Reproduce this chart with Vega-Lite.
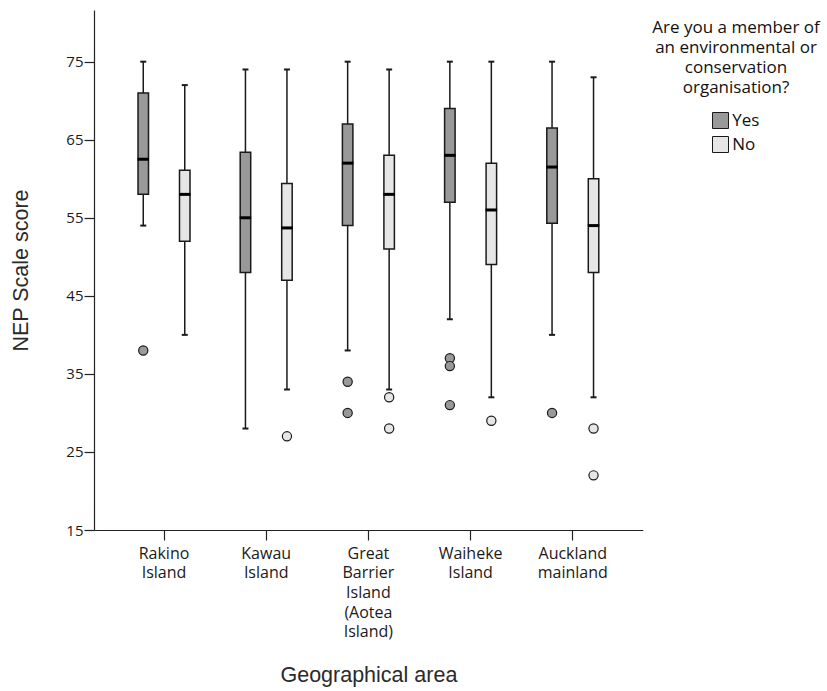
{
  "$schema": "https://vega.github.io/schema/vega-lite/v6.json",
  "width": 548.8,
  "height": 520,
  "autosize": {"type": "none"},
  "padding": {"left": 94, "top": 10, "right": 184.2, "bottom": 161},
  "background": "white",
  "config": {
    "view": {"stroke": null},
    "axis": {
      "domainColor": "#222", "tickColor": "#222", "labelColor": "#1a1a1a", "titleColor": "#2a2a2a",
      "grid": false, "labelFont": "Open Sans", "titleFont": "Liberation Sans", "titleFontWeight": "normal",
      "tickSize": 10, "domainWidth": 1.2, "tickWidth": 1.2
    },
    "axisX": {"labelAngle": 0, "labelFontSize": 16, "labelPadding": 5, "labelLineHeight": 19.7, "titleFontSize": 21.5, "titlePadding": 25},
    "axisY": {"labelFontSize": 15, "labelPadding": 1, "titleFontSize": 21.5, "titlePadding": 33}
  },
  "datasets": {
    "boxes": [
      {"area": "Rakino Island", "member": "Yes", "lower": 54, "q1": 58, "median": 62.5, "q3": 71, "upper": 75},
      {"area": "Rakino Island", "member": "No", "lower": 40, "q1": 52, "median": 58, "q3": 61.1, "upper": 72},
      {"area": "Kawau Island", "member": "Yes", "lower": 28, "q1": 48, "median": 55, "q3": 63.4, "upper": 74},
      {"area": "Kawau Island", "member": "No", "lower": 33, "q1": 47, "median": 53.7, "q3": 59.4, "upper": 74},
      {"area": "Great Barrier Island (Aotea Island)", "member": "Yes", "lower": 38, "q1": 54, "median": 62, "q3": 67, "upper": 75},
      {"area": "Great Barrier Island (Aotea Island)", "member": "No", "lower": 33, "q1": 51, "median": 58, "q3": 63, "upper": 74},
      {"area": "Waiheke Island", "member": "Yes", "lower": 42, "q1": 57, "median": 63, "q3": 69, "upper": 75},
      {"area": "Waiheke Island", "member": "No", "lower": 32, "q1": 49, "median": 56, "q3": 62, "upper": 75},
      {"area": "Auckland mainland", "member": "Yes", "lower": 40, "q1": 54.3, "median": 61.5, "q3": 66.5, "upper": 75},
      {"area": "Auckland mainland", "member": "No", "lower": 32, "q1": 48, "median": 54, "q3": 60, "upper": 73}
    ],
    "outliers": [
      {"area": "Rakino Island", "member": "Yes", "value": 38},
      {"area": "Kawau Island", "member": "No", "value": 27},
      {"area": "Great Barrier Island (Aotea Island)", "member": "Yes", "value": 34},
      {"area": "Great Barrier Island (Aotea Island)", "member": "Yes", "value": 30},
      {"area": "Great Barrier Island (Aotea Island)", "member": "No", "value": 32},
      {"area": "Great Barrier Island (Aotea Island)", "member": "No", "value": 28},
      {"area": "Waiheke Island", "member": "Yes", "value": 37},
      {"area": "Waiheke Island", "member": "Yes", "value": 36},
      {"area": "Waiheke Island", "member": "Yes", "value": 31},
      {"area": "Waiheke Island", "member": "No", "value": 29},
      {"area": "Auckland mainland", "member": "Yes", "value": 30},
      {"area": "Auckland mainland", "member": "No", "value": 28},
      {"area": "Auckland mainland", "member": "No", "value": 22}
    ]
  },
  "data": {"name": "boxes"},
  "encoding": {
    "x": {
      "field": "area", "type": "nominal",
      "sort": ["Rakino Island", "Kawau Island", "Great Barrier Island (Aotea Island)", "Waiheke Island", "Auckland mainland"],
      "scale": {"paddingInner": 0.188, "paddingOuter": 0.279},
      "axis": {"title": "Geographical area", "labelExpr": "split(datum.label, ' ')"}
    },
    "xOffset": {
      "field": "member", "type": "nominal", "sort": ["Yes", "No"],
      "scale": {"domain": ["Yes", "No"], "paddingInner": 0, "paddingOuter": 0}
    }
  },
  "layer": [
    {
      "mark": {"type": "rule", "color": "#1a1a1a", "strokeWidth": 1.5},
      "encoding": {
        "y": {"field": "lower", "type": "quantitative", "title": "NEP Scale score",
          "scale": {"domain": [15, 81.62], "nice": false, "zero": false},
          "axis": {"values": [15, 25, 35, 45, 55, 65, 75]}},
        "y2": {"field": "upper"}
      }
    },
    {
      "mark": {"type": "tick", "color": "#1a1a1a", "size": 6, "thickness": 2, "opacity": 1},
      "encoding": {"y": {"field": "lower", "type": "quantitative", "title": "NEP Scale score"}}
    },
    {
      "mark": {"type": "tick", "color": "#1a1a1a", "size": 6, "thickness": 2, "opacity": 1},
      "encoding": {"y": {"field": "upper", "type": "quantitative", "title": "NEP Scale score"}}
    },
    {
      "mark": {"type": "bar", "width": 10.5, "stroke": "#1a1a1a", "strokeWidth": 1.5},
      "encoding": {
        "y": {"field": "q1", "type": "quantitative", "title": "NEP Scale score"},
        "y2": {"field": "q3"},
        "fill": {
          "field": "member", "type": "nominal",
          "scale": {"domain": ["Yes", "No"], "range": ["#999999", "#e6e6e6"]},
          "legend": {
            "title": ["Are you a member of", "an environmental or", "conservation", "organisation?"],
            "orient": "none", "legendX": 558, "legendY": 10,
            "symbolType": "square", "symbolSize": 256, "symbolStrokeColor": "#1a1a1a", "symbolStrokeWidth": 1,
            "symbolOffset": 0, "labelOffset": 3.2,
            "labelFont": "Open Sans", "labelFontSize": 17, "labelColor": "#111",
            "titleFont": "Open Sans", "titleFontSize": 17, "titleFontWeight": "normal", "titleColor": "#111",
            "titleAlign": "center", "titleAnchor": "middle", "titleLineHeight": 20, "titlePadding": 15,
            "titleLimit": 400, "rowPadding": 3, "padding": 0
          }
        }
      }
    },
    {
      "mark": {"type": "tick", "color": "#000000", "size": 11.5, "thickness": 3, "opacity": 1},
      "encoding": {"y": {"field": "median", "type": "quantitative", "title": "NEP Scale score"}}
    },
    {
      "data": {"name": "outliers"},
      "mark": {"type": "point", "shape": "circle", "filled": true, "size": 85, "stroke": "#1a1a1a", "strokeWidth": 1.2, "opacity": 1},
      "encoding": {
        "y": {"field": "value", "type": "quantitative", "title": "NEP Scale score"},
        "fill": {"field": "member", "type": "nominal", "legend": null}
      }
    }
  ]
}
